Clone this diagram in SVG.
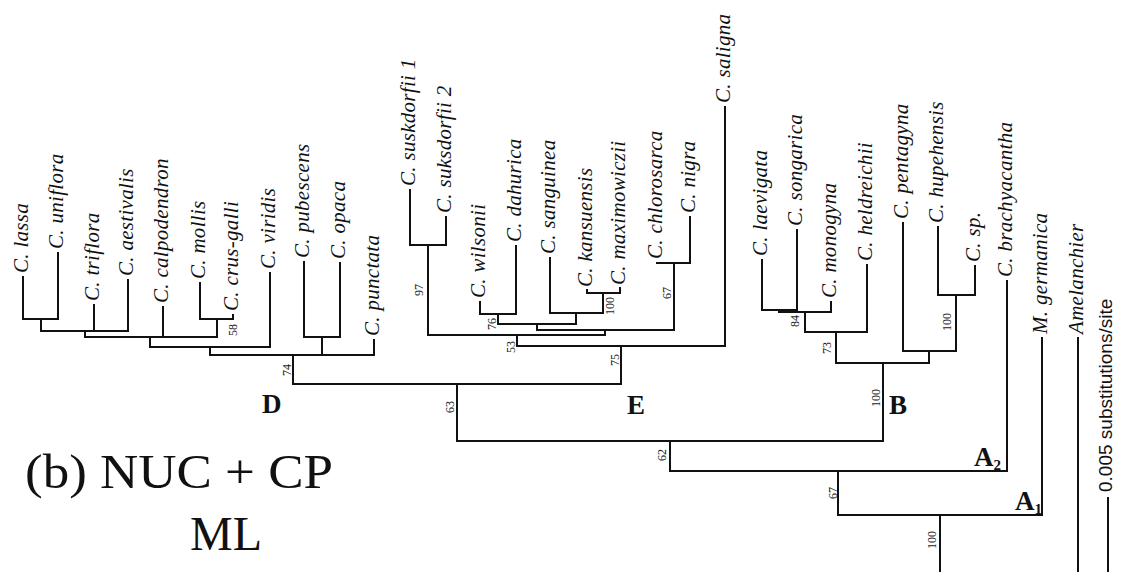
<svg xmlns="http://www.w3.org/2000/svg" width="1122" height="572" viewBox="0 0 1122 572">
<style>
.tip{font-family:"Liberation Serif","Times New Roman",serif;font-style:italic;font-size:21px;letter-spacing:0.3px;fill:#111}
.bs{font-family:"Liberation Serif","Times New Roman",serif;font-size:12px;fill:#222;text-anchor:middle}
.clade{font-family:"Liberation Serif","Times New Roman",serif;font-weight:bold;font-size:27px;fill:#111}
.title{font-family:"Liberation Serif","Times New Roman",serif;font-size:48px;fill:#111}
.scale{font-family:"Liberation Sans",Arial,sans-serif;font-size:19px;fill:#111}
.br{fill:none;stroke:#111;stroke-width:2;stroke-linecap:square}
</style>
<rect width="1122" height="572" fill="#ffffff"/>
<g id="connectors" class="br">
<path d="M23 277V319M58 253V319M94 305V331M128 280V331M163 307V337M200 283V319M233 315V319M270 273V347M304 262V337M340 263V337M374 340V355
M23 319H58M41 319V331M41 331H128M85 331V337M200 319H233M217 319V337M85 337H217M150 337V347M150 347H270M210 347V355M304 337H340M322 337V355M210 355H374M293 355V384"/>
<path d="M410 190V245M446 217V245M410 245H446M428 245V335
M480 302V314M516 246V314M480 314H516M498 314V324
M550 258V313M587 290V293M620 288V293M587 293H620M603 293V313M550 313H603M576 313V324M498 324H576M537 324V330
M690 217V263M657 263H690M674 263V330M537 330H674M605 330V335M428 335H605M517 335V346M725 107V346M517 346H725M621 346V384M293 384H621M457 384V441"/>
<path d="M762 260V310M797 230V310M762 310H797M779 310V312M831 302V312M779 312H831M805 312V332M867 265V332M805 332H867M836 332V363
M903 223V351M938 227V295M975 266V295M938 295H975M956 295V351M903 351H956M929 351V363M836 363H929M883 363V441
M457 441H883M670 441V471M1007 281V471M670 471H1007M838 471V515M1042 338V515M838 515H1042M940 515V572M1078 338V572"/>
<path id="scalebar" d="M1108 498V572"/>
</g>
<g id="tips">
<g id="t-lassa"><text class="tip" transform="translate(28 273) rotate(-90)">C. lassa</text></g>
<g id="t-uniflora"><text class="tip" transform="translate(63 249) rotate(-90)">C. uniflora</text></g>
<g id="t-triflora"><text class="tip" transform="translate(99 301) rotate(-90)">C. triflora</text></g>
<g id="t-aestivalis"><text class="tip" transform="translate(133 276) rotate(-90)">C. aestivalis</text></g>
<g id="t-calpodendron"><text class="tip" transform="translate(168 303) rotate(-90)">C. calpodendron</text></g>
<g id="t-mollis"><text class="tip" transform="translate(205 279) rotate(-90)">C. mollis</text></g>
<g id="t-crusgalli"><text class="tip" transform="translate(238 311) rotate(-90)">C. crus-galli</text></g>
<g id="t-viridis"><text class="tip" transform="translate(275 269) rotate(-90)">C. viridis</text></g>
<g id="t-pubescens"><text class="tip" transform="translate(309 258) rotate(-90)">C. pubescens</text></g>
<g id="t-opaca"><text class="tip" transform="translate(345 259) rotate(-90)">C. opaca</text></g>
<g id="t-punctata"><text class="tip" transform="translate(379 336) rotate(-90)">C. punctata</text></g>
<g id="t-suskdorfii1"><text class="tip" transform="translate(415 186) rotate(-90)">C. suskdorfii 1</text></g>
<g id="t-suksdorfii2"><text class="tip" transform="translate(451 213) rotate(-90)">C. suksdorfii 2</text></g>
<g id="t-wilsonii"><text class="tip" transform="translate(485 298) rotate(-90)">C. wilsonii</text></g>
<g id="t-dahurica"><text class="tip" transform="translate(521 242) rotate(-90)">C. dahurica</text></g>
<g id="t-sanguinea"><text class="tip" transform="translate(555 254) rotate(-90)">C. sanguinea</text></g>
<g id="t-kansuensis"><text class="tip" transform="translate(592 287) rotate(-90)">C. kansuensis</text></g>
<g id="t-maximowiczii"><text class="tip" transform="translate(625 285) rotate(-90)">C. maximowiczii</text></g>
<g id="t-chlorosarca"><text class="tip" transform="translate(662 259) rotate(-90)">C. chlorosarca</text></g>
<g id="t-nigra"><text class="tip" transform="translate(695 213) rotate(-90)">C. nigra</text></g>
<g id="t-saligna"><text class="tip" transform="translate(730 103) rotate(-90)">C. saligna</text></g>
<g id="t-laevigata"><text class="tip" transform="translate(767 256) rotate(-90)">C. laevigata</text></g>
<g id="t-songarica"><text class="tip" transform="translate(802 226) rotate(-90)">C. songarica</text></g>
<g id="t-monogyna"><text class="tip" transform="translate(836 298) rotate(-90)">C. monogyna</text></g>
<g id="t-heldreichii"><text class="tip" transform="translate(872 261) rotate(-90)">C. heldreichii</text></g>
<g id="t-pentagyna"><text class="tip" transform="translate(908 219) rotate(-90)">C. pentagyna</text></g>
<g id="t-hupehensis"><text class="tip" transform="translate(943 223) rotate(-90)">C. hupehensis</text></g>
<g id="t-sp"><text class="tip" transform="translate(980 262) rotate(-90)">C. sp.</text></g>
<g id="t-brachyacantha"><text class="tip" transform="translate(1012 277) rotate(-90)">C. brachyacantha</text></g>
<g id="t-germanica"><text class="tip" transform="translate(1047 334) rotate(-90)">M. germanica</text></g>
<g id="t-amelanchier"><text class="tip" transform="translate(1083 334) rotate(-90)">Amelanchier</text></g>
</g>
<g id="support">
<text class="bs" transform="translate(237 330) rotate(-90)">58</text>
<text class="bs" transform="translate(291 370) rotate(-90)">74</text>
<text class="bs" transform="translate(454 407) rotate(-90)">63</text>
<text class="bs" transform="translate(423 290) rotate(-90)">97</text>
<text class="bs" transform="translate(496 324) rotate(-90)">76</text>
<text class="bs" transform="translate(515 347) rotate(-90)">53</text>
<text class="bs" transform="translate(614 306) rotate(-90)">100</text>
<text class="bs" transform="translate(671 293) rotate(-90)">67</text>
<text class="bs" transform="translate(619 360) rotate(-90)">75</text>
<text class="bs" transform="translate(799 321) rotate(-90)">84</text>
<text class="bs" transform="translate(831 348) rotate(-90)">73</text>
<text class="bs" transform="translate(951 322) rotate(-90)">100</text>
<text class="bs" transform="translate(880 398) rotate(-90)">100</text>
<text class="bs" transform="translate(666 455) rotate(-90)">62</text>
<text class="bs" transform="translate(837 493) rotate(-90)">67</text>
<text class="bs" transform="translate(936 540) rotate(-90)">100</text>
</g>
<g id="clade-D"><text class="clade" x="262" y="413">D</text></g>
<g id="clade-E"><text class="clade" x="627" y="414">E</text></g>
<g id="clade-B"><text class="clade" x="889" y="414">B</text></g>
<g id="clade-A2"><text class="clade" x="974" y="466">A<tspan font-size="15" dy="4">2</tspan></text></g>
<g id="clade-A1"><text class="clade" x="1015" y="510">A<tspan font-size="15" dy="4">1</tspan></text></g>
<g id="title">
<text class="title" x="25" y="488" textLength="308" lengthAdjust="spacingAndGlyphs">(b) NUC + CP</text>
<text class="title" x="190" y="550">ML</text>
</g>
<g id="scale-label"><text class="scale" transform="translate(1112 492) rotate(-90)">0.005 substitutions/site</text></g>
</svg>
